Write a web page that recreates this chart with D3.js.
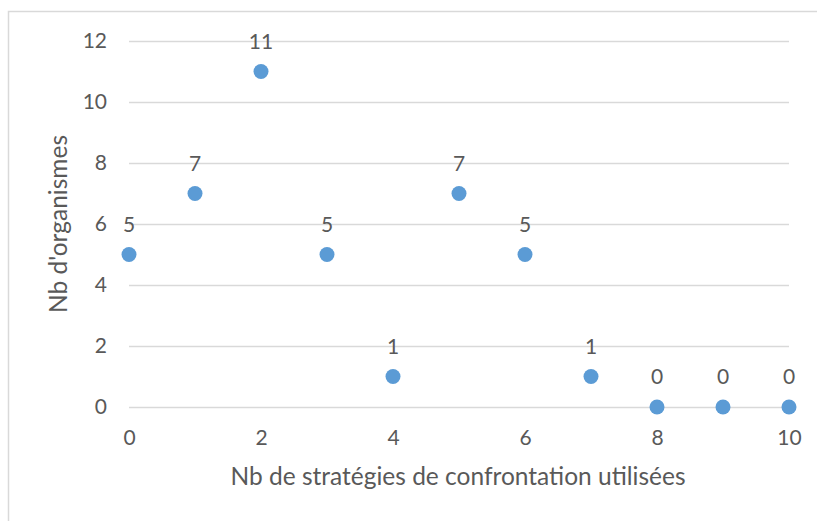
<!DOCTYPE html>
<html>
<head>
<meta charset="utf-8">
<script src="https://cdn.jsdelivr.net/npm/d3@7"></script>
<style>
  html, body { margin: 0; padding: 0; background: #fff; }
  svg { display: block; }
  text { font-family: Lato, "Open Sans", sans-serif; fill: #595959; }
</style>
</head>
<body>
<svg id="chart" width="817" height="521"></svg>
<script>
// Number of coping strategies used vs number of organisations
const strategies = [0, 1, 2, 3, 4, 5, 6, 7, 8, 9, 10];
const organismes = [5, 7, 11, 5, 1, 7, 5, 1, 0, 0, 0];
const xTicks = [0, 2, 4, 6, 8, 10];
const yTicks = [0, 2, 4, 6, 8, 10, 12];
const xTitle = "Nb de stratégies de confrontation utilisées";
const yTitle = "Nb d'organismes";

const svg = d3.select("#chart");
const W = 817, H = 521;
const plot = { left: 129, right: 789, top: 41, bottom: 407 };
const FONT = "Lato, 'Open Sans', sans-serif";

// Chart frame
svg.append("rect")
  .attr("x", 8.5).attr("y", 11.5)
  .attr("width", W).attr("height", H)
  .attr("fill", "#fff").attr("stroke", "#d9d9d9").attr("stroke-width", 1.5);

const x = d3.scaleLinear().domain([0, 10]).range([plot.left, plot.right]);
const y = d3.scaleLinear().domain([0, 12]).range([plot.bottom, plot.top]);

// Horizontal gridlines
svg.append("g")
  .attr("transform", `translate(${plot.left},0)`)
  .call(d3.axisLeft(y).tickValues(yTicks).tickSize(-(plot.right - plot.left)).tickFormat(""))
  .call(g => g.select(".domain").remove())
  .call(g => g.selectAll(".tick line").attr("stroke", "#d9d9d9").attr("stroke-width", 1.3));

// Y tick labels
svg.append("g")
  .attr("transform", `translate(${plot.left - 16},0)`)
  .call(d3.axisLeft(y).tickValues(yTicks).tickSize(0).tickPadding(6))
  .call(g => g.select(".domain").remove())
  .call(g => g.selectAll("text").style("font-size", "21px").attr("fill", "#595959")
    .style("font-family", FONT));

// X tick labels
svg.append("g")
  .attr("transform", `translate(0,${plot.bottom + 19})`)
  .call(d3.axisBottom(x).tickValues(xTicks).tickSize(0).tickPadding(4))
  .call(g => g.select(".domain").remove())
  .call(g => g.selectAll("text").style("font-size", "21px").attr("fill", "#595959")
    .style("font-family", FONT));

const data = strategies.map((s, i) => ({ s, v: organismes[i] }));

// Points
svg.append("g").selectAll("circle")
  .data(data).join("circle")
  .attr("cx", d => x(d.s)).attr("cy", d => y(d.v))
  .attr("r", 7.5).attr("fill", "#5b9bd5");

// Value labels
svg.append("g").selectAll("text")
  .data(data).join("text")
  .attr("x", d => x(d.s)).attr("y", d => y(d.v) - 23)
  .attr("text-anchor", "middle")
  .style("font-size", "21px")
  .text(d => d.v);

// Axis titles
svg.append("text")
  .attr("x", (plot.left + plot.right) / 2 - 1).attr("y", 485)
  .attr("text-anchor", "middle")
  .style("font-size", "24.5px")
  .text(xTitle);

svg.append("text")
  .attr("transform", `translate(67,${(plot.top + plot.bottom) / 2}) rotate(-90)`)
  .attr("text-anchor", "middle")
  .style("font-size", "24.5px")
  .text(yTitle);
</script>
</body>
</html>
